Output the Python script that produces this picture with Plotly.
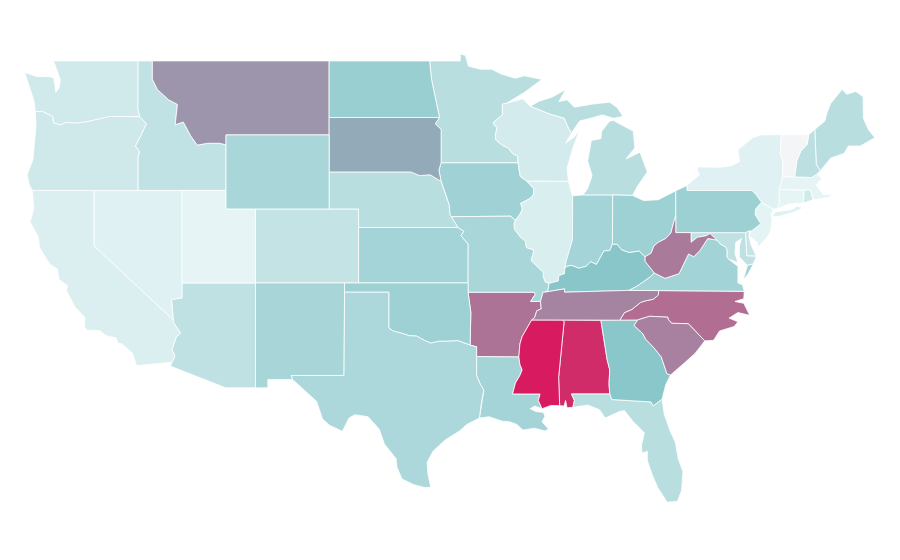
import plotly.graph_objects as go
from plotly.colors import sample_colorscale

# The topojson behind locationmode="USA-states" cannot be loaded here (no network),
# and the reference is a flat lon/lat projection, so the states are drawn as filled
# scatter polygons on plain linear lon/lat axes.
WA = [(-124.72, 48.38), (-123.9, 48.16), (-123.1, 48.15), (-122.75, 48.1), (-122.6, 47.3), (-122.35, 47.6), (-122.3, 48.0), (-122.5, 48.4), (-122.76, 49), (-117.03, 49), (-117.04, 46.42), (-116.92, 45.99), (-118.98, 46), (-119.3, 45.93), (-120.5, 45.72), (-121.2, 45.65), (-121.9, 45.68), (-122.3, 45.55), (-122.75, 45.65), (-122.8, 46), (-123.2, 46.15), (-123.5, 46.27), (-124, 46.27), (-124.05, 46.7), (-124.15, 47), (-124.4, 47.6)]
OR = [(-124, 46.27), (-123.5, 46.27), (-123.2, 46.15), (-122.8, 46), (-122.75, 45.65), (-122.3, 45.55), (-121.9, 45.68), (-121.2, 45.65), (-120.5, 45.72), (-119.3, 45.93), (-118.98, 46), (-116.92, 45.99), (-116.46, 45.6), (-116.85, 44.95), (-117.2, 44.4), (-116.93, 44.1), (-117.03, 43.8), (-117.03, 42), (-124.2, 42), (-124.4, 42.3), (-124.55, 42.84), (-124.15, 43.7), (-124.07, 44.6), (-123.95, 45.5)]
CA = [(-124.2, 42), (-120, 42), (-120, 39), (-114.63, 35), (-114.57, 34.8), (-114.14, 34.3), (-114.43, 34.08), (-114.72, 33.4), (-114.52, 33.03), (-114.72, 32.72), (-117.12, 32.53), (-117.25, 32.85), (-117.4, 33.2), (-118.1, 33.7), (-118.4, 33.75), (-118.5, 34.03), (-119.2, 34.15), (-119.6, 34.42), (-120.47, 34.45), (-120.65, 34.6), (-120.65, 35.15), (-121.3, 35.7), (-121.9, 36.6), (-121.8, 36.85), (-122.4, 37.2), (-122.5, 37.75), (-123, 38), (-123.7, 38.9), (-123.8, 39.5), (-124.35, 40.3), (-124.1, 41)]
NV = [(-120, 42), (-114.04, 42), (-114.04, 36.2), (-114.75, 36.1), (-114.63, 35), (-120, 39)]
ID = [(-117.03, 49), (-116.05, 49), (-116.05, 48), (-115.7, 47.45), (-114.95, 46.9), (-114.35, 46.65), (-114.5, 45.55), (-113.95, 45.7), (-113.45, 44.95), (-113, 44.45), (-112.3, 44.55), (-111.5, 44.55), (-111.05, 44.47), (-111.05, 42), (-117.03, 42), (-117.03, 43.8), (-116.93, 44.1), (-117.2, 44.4), (-116.85, 44.95), (-116.46, 45.6), (-116.92, 45.99), (-117.04, 46.42)]
MT = [(-116.05, 49), (-104.05, 49), (-104.05, 45), (-111.05, 45), (-111.05, 44.47), (-111.5, 44.55), (-112.3, 44.55), (-113, 44.45), (-113.45, 44.95), (-113.95, 45.7), (-114.5, 45.55), (-114.35, 46.65), (-114.95, 46.9), (-115.7, 47.45), (-116.05, 48)]
WY = [(-111.05, 45), (-104.05, 45), (-104.05, 41), (-111.05, 41)]
UT = [(-114.04, 42), (-111.05, 42), (-111.05, 41), (-109.05, 41), (-109.05, 37), (-114.04, 37)]
CO = [(-109.05, 41), (-102.05, 41), (-102.05, 37), (-109.05, 37)]
AZ = [(-114.04, 37), (-109.05, 37), (-109.05, 31.33), (-111.07, 31.33), (-114.81, 32.5), (-114.72, 32.72), (-114.52, 33.03), (-114.72, 33.4), (-114.43, 34.08), (-114.14, 34.3), (-114.57, 34.8), (-114.63, 35), (-114.75, 36.1), (-114.04, 36.2)]
NM = [(-109.05, 37), (-103, 37), (-103.04, 32), (-106.62, 32), (-106.53, 31.78), (-108.21, 31.78), (-108.21, 31.33), (-109.05, 31.33)]
TX = [(-106.62, 32), (-103.04, 32), (-103, 36.5), (-100, 36.5), (-100, 34.56), (-99.7, 34.4), (-99.2, 34.3), (-98.6, 34.15), (-98.1, 34.13), (-97.6, 33.9), (-97.15, 33.75), (-96.6, 33.85), (-96, 33.85), (-95.3, 33.88), (-94.48, 33.64), (-94.04, 33.55), (-94.04, 33.02), (-94.04, 32), (-93.8, 31.55), (-93.55, 31.2), (-93.7, 30.6), (-93.85, 29.7), (-94.7, 29.35), (-95.2, 29), (-96.2, 28.5), (-97, 27.9), (-97.4, 27.3), (-97.35, 26.7), (-97.15, 25.96), (-97.6, 25.95), (-98.3, 26.1), (-99.1, 26.4), (-99.45, 27.05), (-99.5, 27.5), (-100.3, 28.3), (-100.65, 29.1), (-101.4, 29.77), (-102.3, 29.88), (-102.7, 29.7), (-103.15, 28.98), (-104, 29.3), (-104.5, 29.65), (-104.9, 30.6), (-106, 31.4), (-106.53, 31.78)]
OK = [(-103, 37), (-94.62, 37), (-94.62, 36.5), (-94.43, 35.4), (-94.48, 33.64), (-95.3, 33.88), (-96, 33.85), (-96.6, 33.85), (-97.15, 33.75), (-97.6, 33.9), (-98.1, 34.13), (-98.6, 34.15), (-99.2, 34.3), (-99.7, 34.4), (-100, 34.56), (-100, 36.5), (-103, 36.5)]
KS = [(-102.05, 40), (-95.31, 40), (-94.9, 39.8), (-95.1, 39.55), (-94.61, 39.11), (-94.62, 37), (-102.05, 37)]
NE = [(-104.05, 43), (-98.5, 43), (-97.9, 42.8), (-97.2, 42.85), (-96.45, 42.49), (-96.1, 41.7), (-95.9, 41.2), (-95.85, 40.7), (-95.31, 40), (-102.05, 40), (-102.05, 41), (-104.05, 41)]
SD = [(-104.05, 45.94), (-96.56, 45.94), (-96.85, 45.6), (-96.45, 45.3), (-96.45, 43.5), (-96.6, 43.1), (-96.45, 42.49), (-97.2, 42.85), (-97.9, 42.8), (-98.5, 43), (-104.05, 43)]
ND = [(-104.05, 49), (-97.23, 49), (-97.1, 48), (-96.85, 47), (-96.56, 45.94), (-104.05, 45.94)]
MN = [(-97.23, 49), (-95.15, 49), (-95.15, 49.38), (-94.8, 49.3), (-94.6, 48.72), (-93.8, 48.55), (-93, 48.55), (-92.4, 48.3), (-91.4, 48.06), (-90.8, 48.2), (-89.6, 48), (-90.8, 47.3), (-92.01, 46.71), (-92.29, 46.66), (-92.29, 46.08), (-92.87, 45.7), (-92.88, 45.57), (-92.65, 45.4), (-92.76, 45), (-92.75, 44.75), (-92.3, 44.45), (-91.9, 44.3), (-91.6, 44), (-91.25, 43.85), (-91.22, 43.5), (-96.45, 43.5), (-96.45, 45.3), (-96.85, 45.6), (-96.56, 45.94), (-96.85, 47), (-97.1, 48)]
IA = [(-96.45, 43.5), (-91.22, 43.5), (-91.15, 43.1), (-91.07, 42.75), (-90.64, 42.51), (-90.42, 42.33), (-90.16, 42.1), (-90.18, 41.8), (-90.34, 41.6), (-90.66, 41.46), (-91.05, 41.3), (-90.95, 41.07), (-90.95, 40.95), (-91.1, 40.7), (-91.42, 40.38), (-91.73, 40.61), (-95.77, 40.58), (-95.85, 40.7), (-95.9, 41.2), (-96.1, 41.7), (-96.45, 42.49), (-96.6, 43.1)]
MO = [(-95.77, 40.58), (-91.73, 40.61), (-91.42, 40.38), (-91.5, 40.2), (-91.49, 40), (-91.43, 39.85), (-91.1, 39.5), (-90.73, 39.25), (-90.68, 38.93), (-90.55, 38.87), (-90.18, 38.8), (-90.2, 38.6), (-90.35, 38.22), (-89.9, 37.88), (-89.52, 37.57), (-89.51, 37.3), (-89.38, 37.05), (-89.13, 36.98), (-89.2, 36.6), (-89.42, 36.5), (-89.53, 36.5), (-89.7, 36), (-90.37, 36), (-90.06, 36.38), (-90.15, 36.5), (-94.62, 36.5), (-94.62, 37), (-94.61, 39.11), (-95.1, 39.55), (-94.9, 39.8), (-95.31, 40)]
AR = [(-94.62, 36.5), (-90.15, 36.5), (-90.06, 36.38), (-90.37, 36), (-89.7, 36), (-89.65, 35.6), (-89.95, 35.5), (-90.1, 35.13), (-90.3, 35), (-90.58, 34.6), (-90.95, 34.1), (-91.1, 33.7), (-91.17, 33), (-94.04, 33.02), (-94.04, 33.55), (-94.48, 33.64), (-94.43, 35.4)]
LA = [(-94.04, 33.02), (-91.17, 33), (-91.1, 32.6), (-90.95, 32.3), (-91.1, 32), (-91.4, 31.6), (-91.6, 31), (-89.73, 31), (-89.85, 30.65), (-89.6, 30.2), (-90.1, 30.35), (-90.4, 30.2), (-90, 30.05), (-89.5, 30), (-89.4, 29.8), (-89.6, 29.5), (-89.15, 29.1), (-89.4, 29), (-90.1, 29.15), (-90.9, 29.05), (-91.3, 29.35), (-91.8, 29.5), (-92.3, 29.53), (-93.2, 29.77), (-93.85, 29.7), (-93.7, 30.6), (-93.55, 31.2), (-93.8, 31.55), (-94.04, 32)]
MS = [(-90.3, 35), (-88.2, 35), (-88.1, 34.9), (-88.47, 31.9), (-88.4, 30.37), (-89, 30.38), (-89.6, 30.2), (-89.85, 30.65), (-89.73, 31), (-91.6, 31), (-91.4, 31.6), (-91.1, 32), (-90.95, 32.3), (-91.1, 32.6), (-91.17, 33), (-91.1, 33.7), (-90.95, 34.1), (-90.58, 34.6)]
AL = [(-88.2, 35), (-85.6, 34.98), (-85.18, 32.87), (-85, 32.3), (-85.05, 31.55), (-85, 31), (-87.6, 31), (-87.4, 30.65), (-87.5, 30.28), (-87.9, 30.25), (-88, 30.65), (-88.1, 30.35), (-88.4, 30.37), (-88.47, 31.9), (-88.1, 34.9)]
GA = [(-85.6, 34.98), (-83.11, 35), (-83.35, 34.7), (-83.1, 34.53), (-82.75, 34.25), (-82.55, 33.95), (-82, 33.5), (-81.5, 33), (-81.12, 32.1), (-80.87, 32.03), (-81.2, 31.5), (-81.45, 30.72), (-82.05, 30.36), (-82.2, 30.57), (-84.86, 30.7), (-85, 31), (-85.05, 31.55), (-85, 32.3), (-85.18, 32.87)]
FL = [(-87.6, 31), (-85, 31), (-84.86, 30.7), (-82.2, 30.57), (-82.05, 30.36), (-81.45, 30.72), (-81.3, 29.9), (-80.9, 29), (-80.55, 28.4), (-80.35, 27.5), (-80.03, 26.8), (-80.12, 25.8), (-80.4, 25.2), (-81.1, 25.15), (-81.75, 25.95), (-82.1, 26.6), (-82.45, 27.4), (-82.45, 27.9), (-82.8, 27.8), (-82.85, 28.2), (-82.65, 28.9), (-83.4, 29.5), (-84, 30.1), (-84.35, 30.05), (-85.3, 29.7), (-85.7, 30.15), (-86.5, 30.4), (-87.5, 30.28), (-87.4, 30.65)]
SC = [(-83.11, 35), (-82.3, 35.2), (-81.05, 35.15), (-81.05, 35.05), (-80.8, 34.82), (-79.67, 34.8), (-78.55, 33.87), (-79.2, 33.2), (-79.9, 32.7), (-80.87, 32.03), (-81.12, 32.1), (-81.5, 33), (-82, 33.5), (-82.55, 33.95), (-82.75, 34.25), (-83.1, 34.53), (-83.35, 34.7)]
NC = [(-84.32, 34.99), (-83.11, 35), (-82.3, 35.2), (-81.05, 35.15), (-81.05, 35.05), (-80.8, 34.82), (-79.67, 34.8), (-78.55, 33.87), (-77.95, 33.9), (-77.55, 34.4), (-76.55, 34.65), (-76.3, 34.9), (-76.9, 35.1), (-76.3, 35.4), (-75.5, 35.25), (-75.9, 35.9), (-76.5, 36), (-75.9, 36.15), (-75.87, 36.55), (-81.68, 36.59), (-81.7, 36.35), (-82.05, 36.12), (-82.6, 36.03), (-82.9, 35.95), (-83.5, 35.57), (-84, 35.4)]
TN = [(-90.3, 35), (-88.2, 35), (-85.6, 34.98), (-84.32, 34.99), (-84, 35.4), (-83.5, 35.57), (-82.9, 35.95), (-82.6, 36.03), (-82.05, 36.12), (-81.7, 36.35), (-81.68, 36.59), (-83.68, 36.6), (-88.07, 36.5), (-88.07, 36.68), (-89.42, 36.5), (-89.53, 36.5), (-89.7, 36), (-89.65, 35.6), (-89.95, 35.5), (-90.1, 35.13)]
KY = [(-89.42, 36.5), (-88.07, 36.68), (-88.07, 36.5), (-83.68, 36.6), (-83.1, 36.85), (-82.3, 37.3), (-81.97, 37.54), (-82.6, 38.17), (-82.6, 38.42), (-83, 38.73), (-83.7, 38.65), (-84.2, 38.8), (-84.5, 39.1), (-84.82, 39.1), (-85, 38.75), (-85.4, 38.73), (-85.7, 38.3), (-85.9, 38), (-86.3, 38.15), (-86.6, 37.9), (-87.1, 37.8), (-87.6, 37.95), (-87.9, 37.9), (-88.05, 37.8), (-88.07, 37.5), (-88.45, 37.4), (-88.5, 37.1), (-89.13, 36.98), (-89.2, 36.6)]
VA = [(-83.68, 36.6), (-81.68, 36.59), (-75.87, 36.55), (-76, 36.9), (-76.3, 37), (-76.3, 37.5), (-76.3, 37.9), (-76.95, 38.3), (-77.05, 38.4), (-77.04, 38.79), (-77.12, 38.93), (-77.5, 39.1), (-77.72, 39.32), (-78.35, 39.4), (-78.87, 38.76), (-79.3, 38.42), (-79.65, 38.57), (-80.3, 37.5), (-81.25, 37.25), (-81.97, 37.54), (-82.3, 37.3), (-83.1, 36.85)]
VA_SHORE = [(-75.95, 37.15), (-75.65, 37.95), (-75.25, 38.03), (-75.6, 37.5)]
WV = [(-82.6, 38.17), (-81.97, 37.54), (-81.25, 37.25), (-80.3, 37.5), (-79.65, 38.57), (-79.3, 38.42), (-78.87, 38.76), (-78.35, 39.4), (-77.72, 39.32), (-78.2, 39.67), (-78.45, 39.55), (-79.05, 39.47), (-79.48, 39.2), (-79.48, 39.72), (-80.52, 39.72), (-80.52, 40.64), (-80.65, 40.3), (-80.85, 39.7), (-81.2, 39.4), (-81.7, 39.2), (-82, 39), (-82.2, 38.6), (-82.6, 38.42)]
MD = [(-79.48, 39.72), (-75.79, 39.72), (-75.7, 38.46), (-75.05, 38.45), (-75.25, 38.03), (-75.65, 37.95), (-76.2, 38.4), (-76.2, 39), (-76.05, 39.4), (-76.45, 39.2), (-76.5, 38.6), (-76.3, 38.1), (-76.95, 38.3), (-77.05, 38.4), (-77.04, 38.79), (-77.12, 38.93), (-77.5, 39.1), (-77.72, 39.32), (-78.2, 39.67), (-78.45, 39.55), (-79.05, 39.47), (-79.48, 39.2)]
DE = [(-75.79, 39.72), (-75.5, 39.83), (-75.55, 39.5), (-75.4, 39.05), (-75.05, 38.45), (-75.7, 38.46)]
DC = [(-77.12, 38.93), (-77.04, 39), (-76.91, 38.89), (-77.04, 38.79)]
PA = [(-80.52, 41.98), (-79.76, 42.27), (-79.76, 42), (-75.35, 42), (-75.05, 41.75), (-74.7, 41.36), (-75.1, 41), (-75.13, 40.7), (-74.75, 40.2), (-75.4, 39.8), (-75.5, 39.83), (-75.79, 39.72), (-80.52, 39.72)]
NJ = [(-74.7, 41.36), (-73.9, 41), (-74.05, 40.65), (-73.98, 40.4), (-74.1, 39.75), (-74.4, 39.4), (-74.95, 38.93), (-75, 39.2), (-75.55, 39.55), (-75.4, 39.8), (-74.75, 40.2), (-75.13, 40.7), (-75.1, 41)]
NY = [(-79.76, 42.27), (-79.76, 42), (-75.35, 42), (-75.05, 41.75), (-74.7, 41.36), (-73.9, 41), (-73.65, 41), (-73.5, 41.3), (-73.5, 42.05), (-73.27, 42.75), (-73.25, 43.6), (-73.43, 44), (-73.35, 45.01), (-74.7, 45), (-75.3, 44.85), (-76.3, 44.2), (-76.2, 43.55), (-76.7, 43.35), (-77.5, 43.25), (-79.05, 43.27), (-79.05, 43.05), (-78.9, 42.85)]
NY_LONG_ISLAND = [(-74, 40.58), (-73.75, 40.85), (-72.6, 40.97), (-72.3, 41.15), (-71.87, 41.07), (-72.5, 40.82), (-73.5, 40.6)]
CT = [(-73.5, 42.05), (-71.8, 42.02), (-71.85, 41.32), (-72.9, 41.25), (-73.65, 41), (-73.5, 41.3)]
RI = [(-71.8, 42.02), (-71.38, 42.02), (-71.2, 41.5), (-71.85, 41.32)]
MA = [(-73.5, 42.05), (-73.27, 42.75), (-72.46, 42.73), (-71.3, 42.7), (-70.95, 42.88), (-70.6, 42.65), (-71, 42.3), (-70.7, 41.95), (-70.5, 41.78), (-70, 41.8), (-70.2, 42.07), (-69.95, 41.67), (-70.65, 41.55), (-71.2, 41.5), (-71.38, 42.02), (-71.8, 42.02)]
VT = [(-73.35, 45.01), (-71.5, 45.01), (-71.6, 44.5), (-72.05, 44.1), (-72.3, 43.6), (-72.46, 42.73), (-73.27, 42.75), (-73.25, 43.6), (-73.43, 44)]
NH = [(-71.5, 45.01), (-71.08, 45.3), (-70.98, 43.4), (-70.7, 43.07), (-70.95, 42.88), (-71.3, 42.7), (-72.46, 42.73), (-72.3, 43.6), (-72.05, 44.1), (-71.6, 44.5)]
ME = [(-71.08, 45.3), (-70.4, 45.75), (-70.25, 46.2), (-70, 46.7), (-69.23, 47.46), (-68.9, 47.2), (-68.3, 47.35), (-67.8, 47.07), (-67.78, 45.9), (-67.45, 45.3), (-67, 44.85), (-68, 44.4), (-68.8, 44.4), (-69.1, 44), (-70, 43.75), (-70.7, 43.07), (-70.98, 43.4)]
OH = [(-84.8, 41.76), (-83.45, 41.73), (-82.7, 41.45), (-81.7, 41.5), (-80.52, 41.98), (-80.52, 40.64), (-80.65, 40.3), (-80.85, 39.7), (-81.2, 39.4), (-81.7, 39.2), (-82, 39), (-82.2, 38.6), (-82.6, 38.42), (-83, 38.73), (-83.7, 38.65), (-84.2, 38.8), (-84.5, 39.1), (-84.82, 39.1)]
IN = [(-87.52, 41.71), (-87.2, 41.75), (-86.82, 41.76), (-84.8, 41.76), (-84.82, 39.1), (-85, 38.75), (-85.4, 38.73), (-85.7, 38.3), (-85.9, 38), (-86.3, 38.15), (-86.6, 37.9), (-87.1, 37.8), (-87.6, 37.95), (-87.9, 37.9), (-88.05, 37.8), (-87.95, 38.2), (-87.65, 39), (-87.53, 39.35)]
IL = [(-90.64, 42.51), (-87.8, 42.5), (-87.6, 41.85), (-87.52, 41.71), (-87.53, 39.35), (-87.65, 39), (-87.95, 38.2), (-88.05, 37.8), (-88.07, 37.5), (-88.45, 37.4), (-88.5, 37.1), (-89.13, 36.98), (-89.38, 37.05), (-89.51, 37.3), (-89.52, 37.57), (-89.9, 37.88), (-90.35, 38.22), (-90.2, 38.6), (-90.18, 38.8), (-90.55, 38.87), (-90.68, 38.93), (-90.73, 39.25), (-91.1, 39.5), (-91.43, 39.85), (-91.49, 40), (-91.5, 40.2), (-91.42, 40.38), (-91.1, 40.7), (-90.95, 40.95), (-90.95, 41.07), (-91.05, 41.3), (-90.66, 41.46), (-90.34, 41.6), (-90.18, 41.8), (-90.16, 42.1), (-90.42, 42.33)]
WI = [(-92.01, 46.71), (-90.9, 46.95), (-90.4, 46.55), (-89.1, 46.13), (-88.1, 45.9), (-87.8, 45.35), (-87.6, 45.1), (-88, 44.55), (-87.4, 44.9), (-87.05, 45.25), (-87.5, 44.3), (-87.9, 43.2), (-87.8, 42.5), (-90.64, 42.51), (-91.07, 42.75), (-91.15, 43.1), (-91.22, 43.5), (-91.25, 43.85), (-91.6, 44), (-91.9, 44.3), (-92.3, 44.45), (-92.75, 44.75), (-92.76, 45), (-92.65, 45.4), (-92.88, 45.57), (-92.87, 45.7), (-92.29, 46.08), (-92.29, 46.66)]
MI_LOWER = [(-86.82, 41.76), (-86.5, 42.1), (-86.2, 42.8), (-86.5, 43.6), (-86.25, 44.7), (-85.6, 44.8), (-85.55, 45.2), (-85, 45.75), (-84.75, 45.78), (-83.4, 45.2), (-83.3, 44.3), (-83.9, 43.7), (-82.95, 44.07), (-82.45, 43), (-83.1, 42.25), (-83.45, 41.73), (-84.8, 41.76)]
MI_UPPER = [(-90.4, 46.55), (-89.1, 46.13), (-88.1, 45.9), (-87.8, 45.35), (-87.6, 45.1), (-87.05, 45.75), (-86.3, 45.9), (-85.5, 46.08), (-84.75, 45.9), (-84.1, 46), (-84.5, 46.48), (-85, 46.77), (-86.15, 46.67), (-87.4, 46.5), (-87.9, 46.9), (-88.45, 46.8), (-88, 47.45), (-88.9, 47.05), (-89.8, 46.82)]

states = ["AL", "AR", "AZ", "CA", "CO", "CT", "DC", "DE", "FL", "GA", "IA", "ID", "IL", "IN", "KS", "KY", "LA", "MA", "MD", "ME", "MI", "MN", "MO", "MS", "MT", "NC", "ND", "NE", "NH", "NJ", "NM", "NV", "NY", "OH", "OK", "OR", "PA", "RI", "SC", "SD", "TN", "TX", "UT", "VA", "VT", "WA", "WI", "WV", "WY"]
values = [95, 74, 24, 10.5, 22, 6, 15, 20, 27, 48, 38, 23, 12, 36, 36, 49, 36, 6, 24, 27, 27, 27, 34, 100, 64, 76, 41, 27, 25, 7, 35, 9, 9, 39, 39, 16.5, 40, 16, 70, 58, 69, 32, 6, 37, 0, 16, 14, 72, 34]
outlines = [[AL], [AR], [AZ], [CA], [CO], [CT], [DC], [DE], [FL], [GA], [IA], [ID], [IL], [IN], [KS], [KY], [LA], [MA], [MD], [ME], [MI_LOWER, MI_UPPER], [MN], [MO], [MS], [MT], [NC], [ND], [NE], [NH], [NJ], [NM], [NV], [NY, NY_LONG_ISLAND], [OH], [OK], [OR], [PA], [RI], [SC], [SD], [TN], [TX], [UT], [VA, VA_SHORE], [VT], [WA], [WI], [WV], [WY]]

colorscale = [[0, "#f4f5f7"], [0.05, "#e8f5f6"], [0.5, "#86c5c9"], [1, "#d81b60"]]

fig = go.Figure()

for state, value, rings in zip(states, values, outlines):
    lons, lats = [], []
    for ring in rings:
        # close each ring, None starts the next one
        lons += [p[0] for p in ring] + [ring[0][0], None]
        lats += [p[1] for p in ring] + [ring[0][1], None]
    fig.add_trace(
        go.Scatter(
            x=lons,
            y=lats,
            mode="lines",
            fill="toself",
            fillcolor=sample_colorscale(colorscale, value / 100)[0],
            line={"color": "white", "width": 0.8},
            name=state,
            text=f"{state}: {value}",
            hoverinfo="text",
            showlegend=False,
        )
    )

fig.update_layout(
    margin={"l": 0, "r": 0, "t": 0, "b": 0},
    paper_bgcolor="white",
    plot_bgcolor="white",
    xaxis={"visible": False, "range": [-125.85, -65.84]},
    yaxis={"visible": False, "range": [22.46, 51.86]},
)

fig.write_html("out.html")
